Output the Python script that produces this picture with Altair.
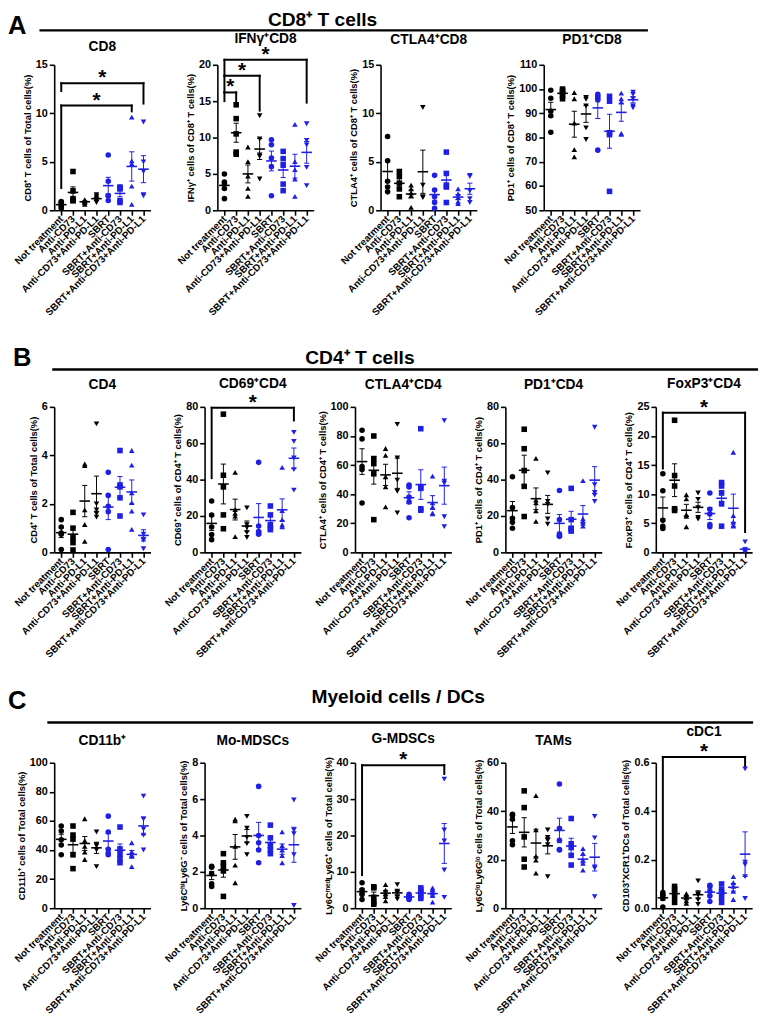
import altair as alt
import numpy as np
import pandas as pd

FONT = "Liberation Sans"
BLACK = "#000000"
BLUE = "#1f1fe6"

GROUPS = ["Not treatment", "Anti-CD73", "Anti-PD-L1", "Anti-CD73+Anti-PD-L1",
          "SBRT", "SBRT+Anti-CD73", "SBRT+Anti-PD-L1", "SBRT+Anti-CD73+Anti-PD-L1"]
GROUP_COLORS = [BLACK] * 4 + [BLUE] * 4
GROUP_SHAPES = ["circle", "square", "triangle-up", "triangle-down"] * 2

# ---------------- data (values per group) ----------------
A_CD8 = [[0.9, 0.8, 0.6, 0.4, 0.2], [4.0, 2.0, 1.2, 1.0, 1.0], [1.1, 1.0, 0.9, 0.8, 0.6],
         [1.6, 1.4, 1.2, 1.0, 0.8], [5.7, 3.0, 1.5, 1.5, 1.0], [2.4, 2.3, 2.2, 1.0, 0.8],
         [9.6, 5.1, 4.8, 2.5, 0.6], [9.1, 5.0, 4.0, 1.6, 1.5]]
A_IFNG = [[5.0, 3.9, 3.6, 3.0, 1.6], [14.5, 12.6, 10.5, 8.0, 7.7], [8.7, 6.7, 4.7, 3.0, 1.9],
          [13.0, 9.8, 7.6, 7.4, 4.3], [9.7, 9.0, 7.2, 6.0, 2.0], [8.1, 7.1, 6.2, 3.6, 2.7],
          [11.8, 6.7, 5.6, 4.3, 1.9], [11.9, 9.6, 9.0, 5.9, 3.4]]
A_CTLA4 = [[7.6, 5.1, 3.0, 2.4, 1.9], [4.0, 3.5, 2.8, 2.2, 1.4], [2.6, 2.2, 1.8, 1.5, 0.3],
           [10.6, 2.6, 1.4, 1.3], [3.6, 2.1, 1.4, 0.8, 0.2], [6.0, 3.8, 2.6, 2.4, 0.8],
           [2.2, 1.7, 1.3, 0.9, 0.7], [3.6, 3.5, 2.0, 1.2, 0.8]]
A_PD1 = [[99.5, 96.2, 90.8, 89.0, 82.2], [100.0, 99.4, 98.6, 97.2, 96.0], [98.5, 96.0, 86.0, 75.0, 72.0],
         [96.6, 95.8, 93.0, 84.0, 79.2], [97.8, 97.0, 96.0, 95.5, 74.8], [97.0, 95.0, 82.0, 81.2, 57.8],
         [98.3, 96.0, 94.6, 81.7, 81.3], [98.7, 97.8, 96.0, 93.0, 92.3]]
B_CD4 = [[1.35, 1.05, 0.8, 0.75, 0.12], [1.65, 1.0, 0.6, 0.4, 0.1], [3.65, 3.58, 1.75, 1.15, 0.45],
         [5.3, 2.0, 1.75, 1.6, 1.45], [3.3, 2.35, 1.9, 1.68, 0.12], [4.2, 2.78, 2.7, 2.25, 1.5],
         [4.2, 3.6, 2.45, 2.05, 1.7, 0.95], [1.55, 0.75, 0.55, 0.5, 0.15]]
B_CD69 = [[28.3, 20.6, 14.0, 9.8, 7.0], [76.0, 42.4, 36.0, 20.6, 13.0], [44.0, 23.5, 21.5, 20.0, 8.7],
          [24.5, 15.2, 13.6, 10.9, 8.2], [49.5, 14.5, 11.5, 10.5, 10.0], [25.5, 20.6, 15.2, 13.6, 12.5],
          [46.7, 23.0, 18.0, 15.2, 14.1], [66.0, 61.0, 52.0, 45.5, 34.2]]
B_CTLA4 = [[84.0, 78.0, 59.0, 57.0, 34.0], [80.0, 64.5, 61.0, 54.0, 22.5], [71.4, 66.7, 52.0, 45.0, 31.3],
           [88.0, 65.0, 49.7, 42.0, 27.2], [46.3, 45.0, 38.0, 34.7, 23.8], [85.0, 45.0, 44.0, 30.0, 29.0],
           [52.4, 34.0, 31.3, 27.0, 26.5], [90.5, 49.0, 47.6, 24.5, 17.7]]
B_PD1 = [[41.6, 24.6, 18.7, 16.5, 13.3], [67.7, 57.0, 45.0, 36.3, 19.7], [51.7, 28.8, 27.2, 22.9, 17.0],
         [43.7, 28.0, 26.4, 18.4, 15.5], [34.0, 18.0, 10.0, 9.0, 8.8], [35.2, 18.0, 13.3, 12.8, 11.7],
         [39.5, 18.5, 17.0, 16.0, 14.4], [68.8, 37.3, 33.0, 31.5, 28.0]]
B_FOXP3 = [[13.5, 10.6, 5.5, 4.5, 4.1], [22.7, 13.2, 11.4, 7.5, 7.2], [9.9, 9.2, 6.5, 6.2, 4.4],
           [10.2, 9.1, 7.7, 6.0, 5.7], [10.2, 7.4, 6.6, 4.8, 4.4], [12.0, 11.4, 10.2, 8.4, 4.5],
           [17.2, 6.3, 5.2, 4.7, 4.5], [1.8, 0.3, 0.25, 0.2, 0.15]]
C_CD11B = [[56.5, 53.0, 47.0, 43.5, 36.7], [56.5, 50.3, 47.5, 36.7, 27.2], [61.5, 46.5, 42.5, 38.5, 33.5],
           [52.4, 43.7, 42.9, 40.0, 28.6], [63.3, 52.4, 40.5, 38.0, 36.7], [55.8, 40.8, 37.4, 34.0, 31.3],
           [45.0, 38.8, 36.7, 36.0, 28.6], [77.0, 61.3, 54.4, 50.3, 40.0]]
C_MOMDSC = [[2.3, 2.25, 1.9, 1.35, 1.2], [3.0, 2.5, 2.3, 2.05, 0.65], [4.9, 4.8, 3.4, 2.37, 1.4],
            [5.05, 4.4, 3.9, 3.55, 2.95], [6.7, 4.0, 3.6, 3.2, 2.5], [4.57, 3.87, 3.44, 3.2, 3.0],
            [4.2, 3.44, 3.2, 2.9, 2.5], [5.95, 4.3, 4.1, 2.95, 0.15]]
C_GMDSC = [[7.0, 5.1, 4.5, 3.8, 2.4], [5.9, 5.6, 3.0, 1.6, 1.1], [6.5, 5.0, 4.0, 3.2, 2.0],
           [6.5, 4.7, 4.2, 3.2, 2.5], [3.8, 3.4, 3.2, 2.7, 2.4], [5.6, 5.1, 4.3, 3.2, 2.7],
           [5.6, 5.0, 4.3, 3.5, 1.7], [35.5, 21.5, 18.5, 10.5, 3.0]]
C_TAM = [[38.7, 38.3, 36.7, 27.8, 26.2], [48.4, 41.5, 29.4, 20.2, 17.0], [46.4, 32.3, 21.4, 19.8, 14.5],
         [32.3, 29.2, 28.0, 26.2, 13.0], [51.2, 33.0, 28.0, 24.2, 24.0], [37.0, 26.6, 25.0, 21.8, 17.8],
         [24.6, 22.6, 19.8, 18.5, 15.7], [37.9, 29.0, 17.0, 16.5, 4.8]]
C_CDC1 = [[0.065, 0.055, 0.05, 0.04, 0.005], [0.09, 0.077, 0.065, 0.045, 0.024], [0.06, 0.055, 0.045, 0.03, 0.02],
          [0.113, 0.06, 0.055, 0.035, 0.016], [0.095, 0.09, 0.069, 0.05, 0.028], [0.10, 0.077, 0.065, 0.045, 0.024],
          [0.13, 0.105, 0.09, 0.07, 0.036], [0.575, 0.19, 0.18, 0.13, 0.04]]

# significance brackets: (group1, group2, top, left leg bottom, right leg bottom)
A_CD8_BR = [(0, 7, 13.1, 12.3, 11.0), (0, 6, 10.8, 2.3, 10.2)]
A_IFNG_BR = [(0, 7, 20.7, 18.5, 14.8), (0, 3, 18.5, 16.2, 13.7), (0, 1, 16.2, 15.0, 15.0)]
B_CD69_BR = [(0, 7, 79.5, 40.8, 72.5)]
B_FOXP3_BR = [(0, 7, 24.0, 14.4, 3.5)]
C_GMDSC_BR = [(0, 7, 39.3, 9.1, 36.9)]
C_CDC1_BR = [(0, 7, 0.624, 0.077, 0.587)]

# ---------------- layout ----------------
W, H = 98, 148
XDOM = [-0.6, 7.6]
LABEL_EXPR = "[" + ",".join("'" + g + "'" for g in GROUPS) + "][datum.value]"
ONE = pd.DataFrame({"a": [0]})


def x_enc():
    return alt.X("x:Q", scale=alt.Scale(domain=XDOM, nice=False, zero=False),
                 axis=alt.Axis(values=list(range(8)), labelExpr=LABEL_EXPR, labelAngle=-45,
                               labelAlign="right", labelBaseline="middle", labelFlush=False,
                               labelOverlap=False, labelFontSize=10, labelPadding=2,
                               title=None, grid=False))


def y_enc(dom, ticks, title, fmt):
    kw = dict(values=ticks, title=title, grid=False, labelFlush=False, labelOverlap=False,
              titlePadding=3, labelPadding=2)
    if fmt:
        kw["format"] = fmt
    return alt.Y("y:Q", scale=alt.Scale(domain=dom, nice=False, zero=False), axis=alt.Axis(**kw))


def panel(values, dom, ticks, ytitle, title, title_y, brackets=(), fmt=None, header=None):
    pts, sem, caps, means = [], [], [], []
    for gi, vals in enumerate(values):
        c = GROUP_COLORS[gi]
        for v in vals:
            pts.append(dict(x=gi, y=v, color=c, shape=GROUP_SHAPES[gi]))
        a = np.asarray(vals, float)
        m = a.mean()
        se = a.std(ddof=1) / np.sqrt(len(a))
        means.append(dict(x=gi - 0.45, x2=gi + 0.45, y=m, color=c))
        sem.append(dict(x=gi, y=m - se, y2=m + se, color=c))
        caps.append(dict(x=gi - 0.22, x2=gi + 0.22, y=m + se, color=c))
        caps.append(dict(x=gi - 0.22, x2=gi + 0.22, y=m - se, color=c))
    xe = x_enc()
    ye = y_enc(dom, ticks, ytitle, fmt)
    col = alt.Color("color:N", scale=None)
    layers = [
        alt.Chart(pd.DataFrame(pts)).mark_point(filled=True, size=32, opacity=1, strokeWidth=0).encode(
            x=xe, y=ye, color=col, shape=alt.Shape("shape:N", scale=None)),
        alt.Chart(pd.DataFrame(sem)).mark_rule(strokeWidth=1).encode(x=xe, y=ye, y2="y2:Q", color=col),
        alt.Chart(pd.DataFrame(caps)).mark_rule(strokeWidth=1).encode(x=xe, x2="x2:Q", y=ye, color=col),
        alt.Chart(pd.DataFrame(means)).mark_rule(strokeWidth=1.6).encode(x=xe, x2="x2:Q", y=ye, color=col),
    ]
    if brackets:
        segs, stars = [], []
        for g1, g2, top, lb, rb in brackets:
            segs += [dict(x=g1, x2=g2, y=top, y2=top), dict(x=g1, x2=g1, y=top, y2=lb),
                     dict(x=g2, x2=g2, y=top, y2=rb)]
            stars.append(dict(x=(g1 + g2) / 2, y=top))
        layers.append(alt.Chart(pd.DataFrame(segs)).mark_rule(strokeWidth=2, color="black", strokeCap="square").encode(
            x=xe, x2="x2:Q", y=ye, y2="y2:Q"))
        layers.append(alt.Chart(pd.DataFrame(stars)).mark_text(
            text="*", fontSize=21, fontWeight="bold", font=FONT, baseline="alphabetic", dy=1, color="black").encode(
            x=xe, y=ye))
    layers.append(alt.Chart(ONE).mark_text(
        text=title, fontSize=14, fontWeight="bold", font=FONT, align="center", baseline="alphabetic",
        color="black").encode(x=alt.value(W / 2), y=alt.value(title_y)))
    if header:
        letter, lx, ly, htext, hx, hy, rx1, rx2, ry = header
        layers += [
            alt.Chart(ONE).mark_text(text=letter, fontSize=26, fontWeight="bold", font=FONT, align="left",
                                     baseline="top", color="black").encode(
                x=alt.value(lx), y=alt.value(ly)),
            alt.Chart(ONE).mark_text(text=htext, fontSize=19.5, fontWeight="bold", font=FONT, align="center",
                                     baseline="top", color="black").encode(
                x=alt.value(hx), y=alt.value(hy)),
            alt.Chart(ONE).mark_rule(strokeWidth=2.5, color="black").encode(
                x=alt.value(rx1), x2=alt.value(rx2), y=alt.value(ry)),
        ]
    return alt.layer(*layers).properties(width=W, height=H)


rowA = alt.hconcat(
    panel(A_CD8, [0, 15], [0, 5, 10, 15], "CD8⁺ T cells of Total cells(%)", "CD8", -14, A_CD8_BR,
          header=("A", -47, -52.5, "CD8⁺ T cells", 273, -54.5, -15, 604, -35)),
    panel(A_IFNG, [0, 20], [0, 5, 10, 15, 20], "IFNγ⁺ cells of CD8⁺ T cells(%)", "IFNγ⁺CD8", -22, A_IFNG_BR),
    panel(A_CTLA4, [0, 15], [0, 5, 10, 15], "CTLA4⁺ cells of CD8⁺ T cells(%)", "CTLA4⁺CD8", -21),
    panel(A_PD1, [50, 110], [50, 60, 70, 80, 90, 100, 110], "PD1⁺ cells of CD8⁺ T cells(%)", "PD1⁺CD8", -21),
    spacing=68, bounds="flush")

rowB = alt.hconcat(
    panel(B_CD4, [0, 6], [0, 2, 4, 6], "CD4⁺ T cells of Total cells(%)", "CD4", -18,
          header=("B", -42, -62.5, "CD4⁺ T cells", 311, -59, -2, 716, -38)),
    panel(B_CD69, [0, 80], [0, 20, 40, 60, 80], "CD69⁺ cells of CD4⁺ T cells(%)", "CD69⁺CD4", -19, B_CD69_BR),
    panel(B_CTLA4, [0, 100], [0, 20, 40, 60, 80, 100], "CTLA4⁺ cells of CD4⁺ T cells(%)", "CTLA4⁺CD4", -18),
    panel(B_PD1, [0, 80], [0, 20, 40, 60, 80], "PD1⁺ cells of CD4⁺ T cells(%)", "PD1⁺CD4", -18),
    panel(B_FOXP3, [0, 25], [0, 5, 10, 15, 20, 25], "FoxP3⁺ cells of CD4⁺ T cells(%)", "FoxP3⁺CD4", -19,
          B_FOXP3_BR),
    spacing=55, bounds="flush")

rowC = alt.hconcat(
    panel(C_CD11B, [0, 100], [0, 20, 40, 60, 80, 100], "CD11b⁺ cells of Total cells(%)", "CD11b⁺", -18,
          header=("C", -47, -75.5, "Myeloid cells / DCs", 350, -75.5, -7, 711, -41)),
    panel(C_MOMDSC, [0, 8], [0, 2, 4, 6, 8], "Ly6CʰⁱLy6G⁻ cells of Total cells(%)", "Mo-MDSCs", -18),
    panel(C_GMDSC, [0, 40], [0, 10, 20, 30, 40], "Ly6CᵐᵉᵈLy6G⁺ cells of Total cells(%)", "G-MDSCs", -20,
          C_GMDSC_BR),
    panel(C_TAM, [0, 60], [0, 20, 40, 60], "Ly6CˡᵒLy6Gˡᵒ cells of Total cells(%)", "TAMs", -18),
    panel(C_CDC1, [0, 0.6], [0, 0.2, 0.4, 0.6], "CD103⁺XCR1⁺DCs of Total cells(%)", "cDC1", -27, C_CDC1_BR,
          fmt=".1f"),
    spacing=55, bounds="flush")

chart = alt.vconcat(rowA, rowB, rowC, spacing=28).properties(
    padding={"left": 0, "top": -7, "right": 0, "bottom": 0}
).configure(background="white", font=FONT).configure_view(stroke=None).configure_axis(
    domainColor="black", domainWidth=1.6, tickColor="black", tickWidth=1.6, tickSize=5,
    labelFont=FONT, labelFontSize=11, labelFontWeight="bold", labelColor="black",
    titleFont=FONT, titleFontSize=9.5, titleFontWeight="bold", titleColor="black")

chart.save("out.html", embed_options={"renderer": "svg", "actions": False})
